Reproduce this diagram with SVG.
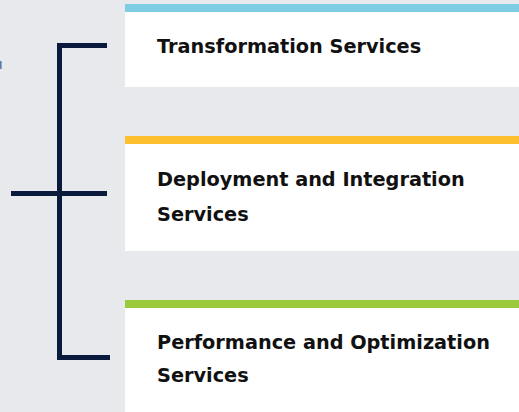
<svg xmlns="http://www.w3.org/2000/svg" width="519" height="412" viewBox="0 0 519 412">
<style>
.card{fill:#ffffff}
.lbl{font-family:"DejaVu Sans","Liberation Sans",sans-serif;font-weight:bold;font-size:19.3px;fill:#111111}
.br{stroke:#0a1a3c;stroke-width:5;fill:none;stroke-linecap:butt}
</style>
<rect x="0" y="0" width="519" height="412" fill="#e8e9ed"/>
<rect x="0" y="61" width="1.6" height="8" fill="#5a7bb0"/>
<g id="connectors">
<path class="br" d="M107,45.5 H59.5 V357.5 H110"/>
<path class="br" d="M11,193.5 H107"/>
</g>
<g id="node-transformation">
<rect class="card" x="125" y="4" width="394" height="83"/>
<rect x="125" y="4" width="394" height="8" fill="#7fcde3"/>
<text class="lbl" x="157" y="52.5">Transformation Services</text>
</g>
<g id="node-deployment">
<rect class="card" x="125" y="136" width="394" height="115"/>
<rect x="125" y="136" width="394" height="8" fill="#fdbf2d"/>
<text class="lbl" x="157" y="186">Deployment and Integration</text>
<text class="lbl" x="157" y="220.5">Services</text>
</g>
<g id="node-performance">
<rect class="card" x="125" y="300" width="394" height="112"/>
<rect x="125" y="300" width="394" height="8" fill="#9aca3c"/>
<text class="lbl" x="157" y="348.5">Performance and Optimization</text>
<text class="lbl" x="157" y="381.5">Services</text>
</g>
</svg>
